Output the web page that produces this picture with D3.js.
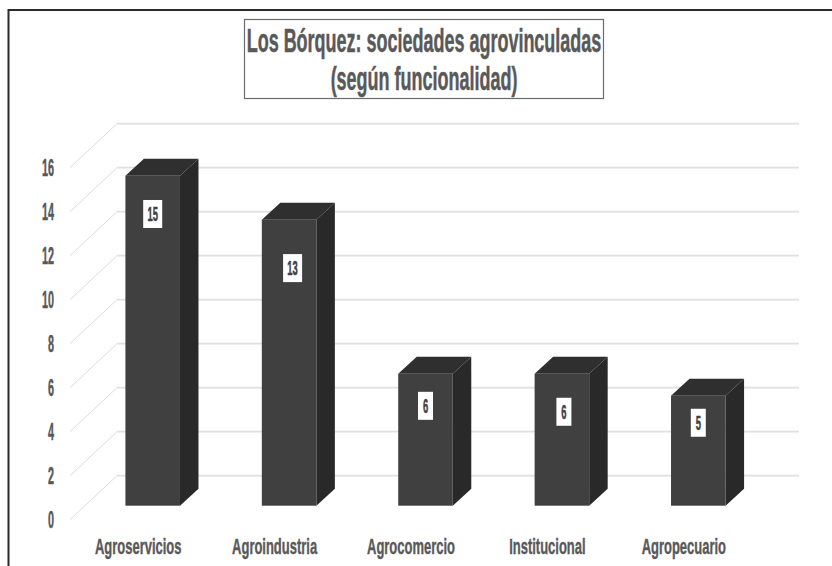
<!DOCTYPE html>
<html>
<head>
<meta charset="utf-8">
<script src="https://cdn.jsdelivr.net/npm/d3@7"></script>
<style>
    html, body { margin: 0; padding: 0; background: #fff; }
    svg { display: block; }
    text { font-family: "Liberation Sans Narrow", "Liberation Sans", sans-serif; font-weight: 700; fill: #595959; }
</style>
</head>
<body>
<div id="chart"></div>
<script>
const categories = ['Agroservicios', 'Agroindustria', 'Agrocomercio', 'Institucional', 'Agropecuario'];
const values = [15, 13, 6, 6, 5];
const yTicks = [0, 2, 4, 6, 8, 10, 12, 14, 16];
const titleLines = ['Los Bórquez: sociedades agrovinculadas', '(según funcionalidad)'];
// where the data labels sit (they were placed by hand in the original)
const labelHeights = [13.26, 10.8, 4.54, 4.27, 3.77];  // axis units
const labelNudges = [0, 3.5, 0, 2, 0];                 // px off bar centre

const width = 832, height = 566;
const wall = {dx: 47, dy: -44};      // floor front edge -> back wall
const barFront = {dx: 14.5, dy: -14};  // floor front edge -> bar front face
const barDepth = {dx: 18.5, dy: -17};

const svg = d3.select('#chart').append('svg')
    .attr('width', width)
    .attr('height', height);

const x = d3.scaleBand()
    .domain(categories)
    .range([70, 752])
    .paddingInner(0.6)
    .paddingOuter(0.3);

const y = d3.scaleLinear()
    .domain([0, 16])
    .range([519.7, 167.7]);

// outer frame, only top and left are in the picture
svg.append('path')
    .attr('d', `M${width},10H8.5V${height}`)
    .attr('fill', 'none')
    .attr('stroke', '#2b2b2b')
    .attr('stroke-width', 2);

// Back wall lines
svg.append('g').selectAll('line')
    .data(yTicks)
    .enter().append('line')
    .attr('x1', 70 + wall.dx)
    .attr('x2', 752 + wall.dx)
    .attr('y1', d => y(d) + wall.dy)
    .attr('y2', d => y(d) + wall.dy)
    .attr('stroke', '#e0e0e0')
    .attr('stroke-width', 1.7);

// Side wall lines
svg.append('g').selectAll('line')
    .data(yTicks)
    .enter().append('line')
    .attr('x1', 70)
    .attr('x2', 70 + wall.dx)
    .attr('y1', d => y(d))
    .attr('y2', d => y(d) + wall.dy)
    .attr('stroke', '#dcdcdc')
    .attr('stroke-width', 1);

// Axis
const axis = svg.append('g')
    .attr('transform', 'translate(54,0)')
    .call(d3.axisLeft(y).tickValues(yTicks).tickSize(0).tickPadding(0));
axis.select('.domain').remove();
axis.selectAll('text')
    .attr('x', 0)
    .attr('y', 0)
    .attr('dy', '0.36em')
    .attr('text-anchor', 'end')
    .attr('transform', 'scale(0.47,1)')
    .style('font-size', '23px')
    .style('stroke', '#595959')
    .style('stroke-width', 0.5);

// Bars
const bars = svg.append('g').selectAll('g')
    .data(values)
    .enter().append('g')
    .attr('transform', `translate(${barFront.dx},${barFront.dy})`);

bars.append('path')
    .attr('d', (d, i) => {
        const l = x(categories[i]), r = l + x.bandwidth();
        return `M${l},${y(d)}L${l + barDepth.dx},${y(d) + barDepth.dy}H${r + barDepth.dx}L${r},${y(d)}Z`;
    })
    .attr('fill', '#2f2f2f');

bars.append('path')
    .attr('d', (d, i) => {
        const r = x(categories[i]) + x.bandwidth();
        return `M${r},${y(d)}L${r + barDepth.dx},${y(d) + barDepth.dy}V${y(0) + barDepth.dy}L${r},${y(0)}Z`;
    })
    .attr('fill', '#292929');

bars.append('rect')
    .attr('x', (d, i) => x(categories[i]))
    .attr('y', d => y(d))
    .attr('width', x.bandwidth())
    .attr('height', d => y(0) - y(d))
    .attr('fill', '#404040');

// Data labels
const labels = bars.append('g')
    .attr('transform', (d, i) => `translate(${x(categories[i]) + x.bandwidth() / 2 + labelNudges[i]},${y(labelHeights[i])})`);

labels.append('rect')
    .attr('x', d => d > 9 ? -9.5 : -7.5)
    .attr('y', -14)
    .attr('width', d => d > 9 ? 19 : 15)
    .attr('height', 28)
    .attr('fill', '#fff');

labels.append('text')
    .attr('dy', '0.36em')
    .attr('text-anchor', 'middle')
    .attr('transform', 'scale(0.47,1)')
    .style('font-size', '20px')
    .style('fill', '#404040')
    .style('stroke', '#404040')
    .style('stroke-width', 0.5)
    .text(d => d);

// Category labels
svg.append('g').selectAll('text')
    .data(categories)
    .enter().append('text')
    .attr('transform', d => `translate(${x(d) + x.bandwidth() / 2},554) scale(0.59,1)`)
    .attr('text-anchor', 'middle')
    .style('font-size', '22px')
    .style('stroke', '#595959')
    .style('stroke-width', 0.4)
    .text(d => d);

// Title
svg.append('rect')
    .attr('x', 244.5)
    .attr('y', 19.5)
    .attr('width', 359)
    .attr('height', 79)
    .attr('fill', '#fff')
    .attr('stroke', '#6b6b6b')
    .attr('stroke-width', 1.2);

svg.append('g').selectAll('text')
    .data(titleLines)
    .enter().append('text')
    .attr('transform', (d, i) => `translate(424,${52 + i * 38}) scale(0.545,1)`)
    .attr('text-anchor', 'middle')
    .style('font-size', '33px')
    .style('stroke', '#595959')
    .style('stroke-width', 0.5)
    .text(d => d);
</script>
</body>
</html>
